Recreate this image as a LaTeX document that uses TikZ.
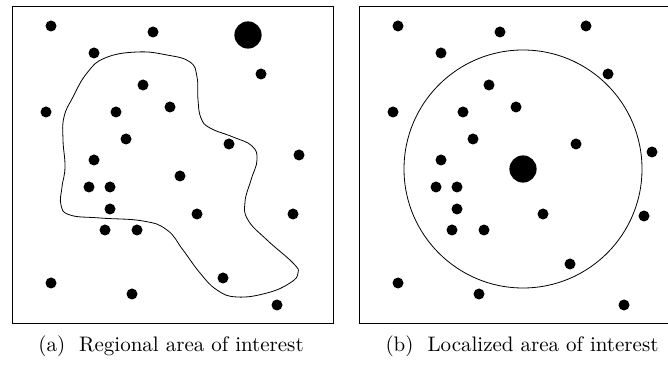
\documentclass[tikz,border=0pt]{standalone}
\usepackage{tikz}

\tikzset{
    panel/.style={draw, line width=0.5pt},
    dot/.style={fill=black},
    region/.style={draw, line width=0.4pt},
    caption/.style={font=\fontsize{10.5}{12}\selectfont, inner sep=0pt}
}

\begin{document}
\begin{tikzpicture}[x=0.5pt, y=-0.5pt]
    \useasboundingbox (0,0) rectangle (668,367);
    \clip (0,0) rectangle (668,367);

    % (a) regional
    \draw[panel] (12,7) rectangle (333,324);
    \draw[region] plot[smooth cycle, tension=0.75] coordinates {
        (87,73) (105,58) (137,52) (167,55) (190,62) (197,77) (198,100) (201,118)
        (210,128) (233,137) (252,146) (257,160) (251,180) (245,202) (248,220)
        (267,240) (293,263) (298,273) (290,283) (267,293) (237,297) (217,290)
        (200,273) (183,250) (167,230) (143,221) (100,218) (70,215) (61,205)
        (62,187) (65,167) (63,140) (64,117) (73,97)};
    \foreach \x/\y in {51/26, 153/32, 94/53, 261/74, 143/85, 46/112, 116/112,
                       170/107, 126/139, 229/144, 299/155, 94/160, 180/176,
                       89/187, 110/187, 110/209, 197/214, 293/214, 105/230,
                       137/230, 223/278, 51/283, 132/294, 277/305} {
        \fill[dot] (\x,\y) circle (2.75pt);
    }
    \fill[dot] (248,35) circle (6.8pt);

    % (b) localized
    \draw[panel] (359,7) rectangle (672,324);
    \draw[region] (523,169) circle (59.5pt);
    \foreach \x/\y in {398/26, 500/32, 586/26, 441/53, 608/74, 489/85, 393/112,
                       463/112, 516/107, 473/139, 576/144, 652/152, 441/160,
                       436/187, 457/187, 457/209, 543/214, 644/216, 452/230,
                       484/230, 570/264, 398/283, 479/294, 624/305} {
        \fill[dot] (\x,\y) circle (2.75pt);
    }
    \fill[dot] (523,169) circle (6.8pt);

    \node[caption] (capa) at (171,346) {(a)~ Regional area of interest};
    \node[caption] (capb) at (522,346) {(b)~ Localized area of interest};
\end{tikzpicture}
\end{document}
